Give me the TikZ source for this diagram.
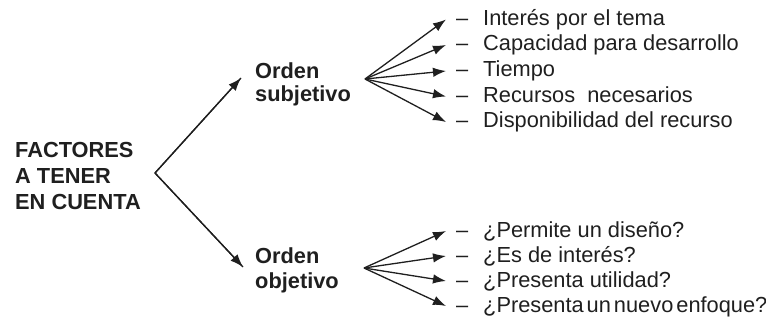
\documentclass[tikz,border=0pt]{standalone}
\usepackage{fontspec}
\setmainfont{Liberation Sans}
\usetikzlibrary{arrows.meta}
\tikzset{
  txt/.style={inner sep=0pt, anchor=base west, text=black!88, font=\fontsize{21.8}{24}\selectfont},
  bold/.style={txt, font=\fontsize{21.8}{24}\selectfont\bfseries},
  arr/.style={line width=1.3pt, draw=black!88, -{Latex[length=13pt,width=9.5pt]}}
}
\newcommand{\itm}[1]{\makebox[27pt][l]{–}#1}
\begin{document}
\begin{tikzpicture}[x=1pt,y=-1pt]
\useasboundingbox (0,0) rectangle (766,321);
% root
\node[bold] (fac) at (15,157) {\fontsize{21.8}{26}\selectfont\begin{tabular}[t]{@{}l@{}}FACTORES\\A TENER\\EN CUENTA\end{tabular}};
\coordinate (rt) at (155,173);
% branches
\node[bold] (os) at (255,78) {\begin{tabular}[t]{@{}l@{}}Orden\\subjetivo\end{tabular}};
\node[bold] (ob) at (255,263) {\fontsize{21.8}{25}\selectfont\begin{tabular}[t]{@{}l@{}}Orden\\objetivo\end{tabular}};
\coordinate (f1) at (365,79);
\coordinate (f2) at (364,268);
% upper items
\node[txt] (s1) at (456,25.5) {\itm{Interés por el tema}};
\node[txt] (s2) at (456,51) {\itm{Capacidad para desarrollo}};
\node[txt] (s3) at (456,77) {\itm{Tiempo}};
\node[txt] (s4) at (456,102.5) {\itm{Recursos\ \ necesarios}};
\node[txt] (s5) at (456,128) {\itm{Disponibilidad del recurso}};
% lower items
\node[txt] (o1) at (456,237.5) {\itm{¿Permite un diseño?}};
\node[txt] (o2) at (456,262.5) {\itm{¿Es de interés?}};
\node[txt] (o3) at (456,287.5) {\itm{¿Presenta utilidad?}};
\node[txt] (o4) at (456,312.5) {\itm{\spaceskip=3pt ¿Presenta un nuevo enfoque?}};
% connectors
\draw[line width=1.3pt, draw=black!88, line join=miter] ([shift={(-14pt,0pt)}]os.base west) -- (rt) -- ([shift={(-12pt,-4pt)}]ob.base west);
\draw[arr] (rt) -- ([shift={(-14pt,0pt)}]os.base west);
\draw[arr] (rt) -- ([shift={(-12pt,-4pt)}]ob.base west);
\foreach \n in {s1,s2,s3,s4,s5}{
  \draw[arr] (f1) -- ([shift={(-10pt,6pt)}]\n.base west);
}
\foreach \n in {o1,o2,o3,o4}{
  \draw[arr] (f2) -- ([shift={(-10pt,6.5pt)}]\n.base west);
}
\end{tikzpicture}
\end{document}
